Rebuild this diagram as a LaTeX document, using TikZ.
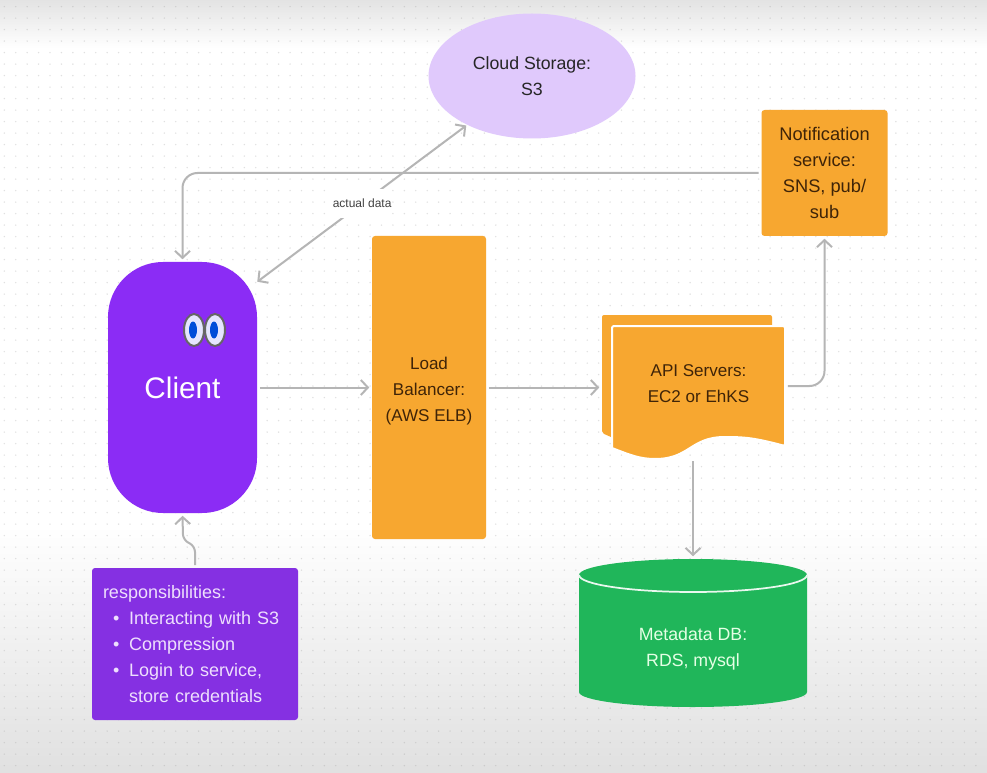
\documentclass[tikz,border=0pt]{standalone}
\usepackage{fontspec}
\usepackage{xcolor}
\setmainfont{Liberation Sans}
\usetikzlibrary{shapes,arrows.meta,positioning,calc,backgrounds,fit}

\newdimen\pxu
\pxu=0.75pt
\definecolor{clientpurple}{HTML}{8B2CF5}
\definecolor{resppurple}{HTML}{8530E2}
\definecolor{boxorange}{HTML}{F7A730}
\definecolor{orangeink}{HTML}{3F2408}
\definecolor{dbgreen}{HTML}{20B65A}
\definecolor{cloudlilac}{HTML}{E0C9FC}
\definecolor{linegray}{HTML}{B5B5B5}
\newcommand{\respitem}[1]{\hspace*{10\pxu}\textbullet\hspace{9.8\pxu}#1}

\begin{document}
\begin{tikzpicture}[x=\pxu,y=-\pxu]
  % Estilos
  \tikzstyle{txt}=[align=center, font=\fontsize{13.3}{19.5}\selectfont]
  \tikzstyle{orangebox}=[txt, rectangle, fill=boxorange, text=orangeink, rounded corners=3\pxu, inner sep=0pt]
  \tikzstyle{link}=[line width=1.5pt, draw=linegray, shorten >=2.5\pxu, shorten <=2.5\pxu, arrows={-Straight Barb[length=5.25pt,width=11.25pt]}]
  \tikzstyle{ghost}=[rectangle, inner sep=0pt]

  % Fondo
  \useasboundingbox (0,0) rectangle (987,773);
  \fill[white] (0,0) rectangle (987,773);
  \shade[top color=black!11, bottom color=white] (0,0) rectangle (987,48);
  \shade[top color=white, bottom color=black!12] (0,525) rectangle (987,773);
  \foreach \i in {0,...,85} {
    \foreach \j in {0,...,66} {
      \fill[black!40, opacity=0.3] ({4.3+11.43*\i},{6.6+11.5*\j}) circle (0.8);
    }
  }

  % Nodos
  \node[txt, ellipse, fill=cloudlilac, text=black!85, minimum width=207\pxu, minimum height=125\pxu, inner sep=0pt] (cloud) at (532,76) {Cloud Storage:\\S3};
  \node[orangebox, minimum width=126\pxu, minimum height=126\pxu, font=\fontsize{13.7}{19.5}\selectfont] (notif) at (824.5,173) {Notification\\service:\\SNS, pub/\\sub};
  \node[rectangle, fill=clientpurple, text=white, rounded corners=55\pxu, minimum width=149\pxu, minimum height=251\pxu, inner sep=0pt, font=\fontsize{22.3}{26}\selectfont] (client) at (182.5,387.5) {Client};
  \node[orangebox, minimum width=114\pxu, minimum height=303\pxu, font=\fontsize{12.8}{19.5}\selectfont] (lb) at (429,387.5) {\rule{0pt}{14pt}Load\\Balancer:\\(AWS ELB)};

  % Hoja de servidores (dos capas)
  \node[ghost, minimum width=170\pxu, minimum height=118\pxu] (apiback) at (687,374) {};
  \fill[boxorange, rounded corners=2\pxu] (602,433) -- (602,315) -- (772,315) -- (772,360) -- (640,450) -- cycle;
  \draw[white, line width=1.5pt, fill=boxorange, rounded corners=2\pxu] (612,448) -- (612,326) -- (785,326) -- (785,446)
    [sharp corners] .. controls (755,438) and (745,437) .. (725,437) .. controls (690,437) and (690,459) .. (655,459) .. controls (640,459) and (630,455) .. (612,448) -- cycle;
  \node[txt, ghost, text=orangeink, minimum width=173\pxu, minimum height=120\pxu, font=\fontsize{12.8}{19.5}\selectfont] (api) at (698.5,386) {API Servers:\\EC2 or EhKS\rule[-3.75pt]{0pt}{0pt}};

  % Base de datos
  \node[ghost, minimum width=228\pxu, minimum height=148\pxu] (db) at (693,633) {};
  \fill[dbgreen] (579,575) arc[start angle=180, end angle=360, x radius=114, y radius=16] -- (807,692) arc[start angle=0, end angle=180, x radius=114, y radius=15] -- cycle;
  \draw[white!90!dbgreen, line width=1.3pt] (579,575) arc[start angle=180, end angle=0, x radius=114, y radius=17];
  \node[txt, text=green!10!white] (dbtext) at (693,648.5) {Metadata DB:\\RDS, mysql};

  \node[rectangle, fill=resppurple, text=white!85!clientpurple, rounded corners=3\pxu, minimum width=206\pxu, minimum height=152\pxu, inner sep=0pt, text width=184\pxu, align=left, font=\fontsize{13.5}{19.5}\selectfont] (resp) at (195,644) {responsibilities:\\\respitem{Interacting with S3}\\\respitem{Compression}\\\respitem{Login to service,}\\\hspace*{26\pxu}store credentials};

  % Ojos
  \foreach \ex in {194,215} {
    \filldraw[fill=white!90!blue, draw=black!60, line width=1.5pt] (\ex,330) ellipse (10 and 16);
    \fill[blue!65!cyan!85!black] (\ex-1,330) ellipse (4 and 8.5);
  }

  % Conexiones
  \draw[link, rounded corners=15\pxu] (notif.west) -| (client.north);
  \draw[link, rounded corners=15\pxu] (api.east) -| (notif.south);
  \draw[link] (client.east) -- (lb.west);
  \draw[link] (lb.east) -- (lb.east -| apiback.west);
  \draw[link, shorten <=15\pxu] (db.north |- api.south) -- (db.north);
  \draw[link, rounded corners=6\pxu] (resp.north) -- (195,546) -- (183,540) -- (client.south);
  \draw[link, arrows={Straight Barb[length=5.25pt,width=11.25pt]-Straight Barb[length=5.25pt,width=11.25pt]}, shorten >=1\pxu, shorten <=0pt] ([yshift=-20\pxu]client.north east) -- node[fill=white, inner sep=0pt, minimum height=29\pxu, font=\fontsize{9}{11}\selectfont, text=black!75] (actual) {actual data} (cloud.217);
\end{tikzpicture}
\end{document}
